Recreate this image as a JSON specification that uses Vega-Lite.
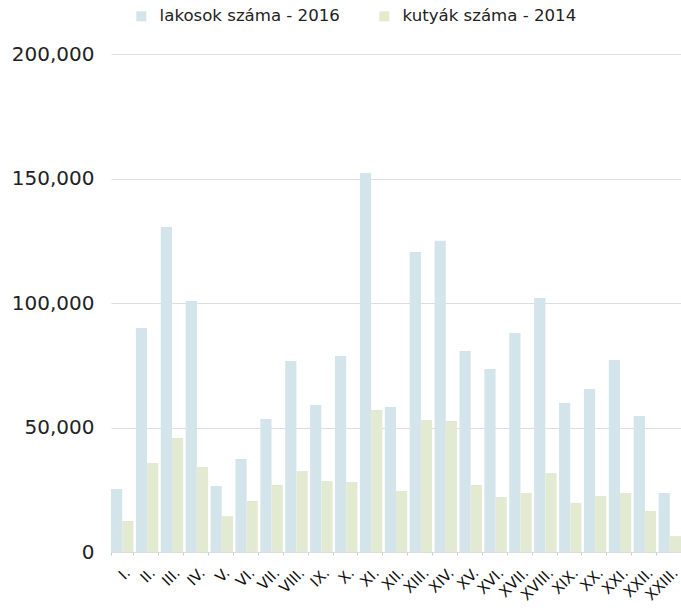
{
  "$schema": "https://vega.github.io/schema/vega-lite/v6.json",
  "width": 570,
  "height": 498,
  "autosize": "none",
  "padding": {"left": 111, "top": 54, "right": 0, "bottom": 59},
  "config": {
    "font": "DejaVu Sans",
    "view": {"stroke": null}
  },
  "data": {
    "values": [
      {"ker": "I.", "series": "lakosok száma - 2016", "v": 25300},
      {"ker": "I.", "series": "kutyák száma - 2014", "v": 12450},
      {"ker": "II.", "series": "lakosok száma - 2016", "v": 90000},
      {"ker": "II.", "series": "kutyák száma - 2014", "v": 35700},
      {"ker": "III.", "series": "lakosok száma - 2016", "v": 130500},
      {"ker": "III.", "series": "kutyák száma - 2014", "v": 45800},
      {"ker": "IV.", "series": "lakosok száma - 2016", "v": 100800},
      {"ker": "IV.", "series": "kutyák száma - 2014", "v": 34100},
      {"ker": "V.", "series": "lakosok száma - 2016", "v": 26500},
      {"ker": "V.", "series": "kutyák száma - 2014", "v": 14400},
      {"ker": "VI.", "series": "lakosok száma - 2016", "v": 37300},
      {"ker": "VI.", "series": "kutyák száma - 2014", "v": 20500},
      {"ker": "VII.", "series": "lakosok száma - 2016", "v": 53400},
      {"ker": "VII.", "series": "kutyák száma - 2014", "v": 26900},
      {"ker": "VIII.", "series": "lakosok száma - 2016", "v": 76700},
      {"ker": "VIII.", "series": "kutyák száma - 2014", "v": 32500},
      {"ker": "IX.", "series": "lakosok száma - 2016", "v": 59000},
      {"ker": "IX.", "series": "kutyák száma - 2014", "v": 28500},
      {"ker": "X.", "series": "lakosok száma - 2016", "v": 78700},
      {"ker": "X.", "series": "kutyák száma - 2014", "v": 28100},
      {"ker": "XI.", "series": "lakosok száma - 2016", "v": 152200},
      {"ker": "XI.", "series": "kutyák száma - 2014", "v": 57000},
      {"ker": "XII.", "series": "lakosok száma - 2016", "v": 58200},
      {"ker": "XII.", "series": "kutyák száma - 2014", "v": 24500},
      {"ker": "XIII.", "series": "lakosok száma - 2016", "v": 120500},
      {"ker": "XIII.", "series": "kutyák száma - 2014", "v": 53000},
      {"ker": "XIV.", "series": "lakosok száma - 2016", "v": 125000},
      {"ker": "XIV.", "series": "kutyák száma - 2014", "v": 52600},
      {"ker": "XV.", "series": "lakosok száma - 2016", "v": 80700},
      {"ker": "XV.", "series": "kutyák száma - 2014", "v": 26900},
      {"ker": "XVI.", "series": "lakosok száma - 2016", "v": 73500},
      {"ker": "XVI.", "series": "kutyák száma - 2014", "v": 22100},
      {"ker": "XVII.", "series": "lakosok száma - 2016", "v": 88000},
      {"ker": "XVII.", "series": "kutyák száma - 2014", "v": 23700},
      {"ker": "XVIII.", "series": "lakosok száma - 2016", "v": 102000},
      {"ker": "XVIII.", "series": "kutyák száma - 2014", "v": 31700},
      {"ker": "XIX.", "series": "lakosok száma - 2016", "v": 59800},
      {"ker": "XIX.", "series": "kutyák száma - 2014", "v": 19700},
      {"ker": "XX.", "series": "lakosok száma - 2016", "v": 65500},
      {"ker": "XX.", "series": "kutyák száma - 2014", "v": 22500},
      {"ker": "XXI.", "series": "lakosok száma - 2016", "v": 77100},
      {"ker": "XXI.", "series": "kutyák száma - 2014", "v": 23700},
      {"ker": "XXII.", "series": "lakosok száma - 2016", "v": 54600},
      {"ker": "XXII.", "series": "kutyák száma - 2014", "v": 16500},
      {"ker": "XXIII.", "series": "lakosok száma - 2016", "v": 23700},
      {"ker": "XXIII.", "series": "kutyák száma - 2014", "v": 6400}
    ]
  },
  "mark": {"type": "bar"},
  "encoding": {
    "x": {
      "field": "ker",
      "type": "nominal",
      "sort": null,
      "scale": {"paddingInner": 0.1, "paddingOuter": 0},
      "axis": {
        "title": null,
        "labelAngle": -45,
        "labelFontSize": 15,
        "labelColor": "#111",
        "domain": false,
        "ticks": true,
        "tickBand": "extent",
        "tickColor": "#ccc",
        "tickSize": 3,
        "labelPadding": 10,
        "labelDx": 4,
        "labelOverlap": false,
        "grid": false
      }
    },
    "xOffset": {
      "field": "series",
      "type": "nominal",
      "sort": ["lakosok száma - 2016", "kutyák száma - 2014"],
      "scale": {"paddingInner": 0, "paddingOuter": 0}
    },
    "y": {
      "field": "v",
      "type": "quantitative",
      "scale": {"domain": [0, 200000]},
      "axis": {
        "title": null,
        "values": [0, 50000, 100000, 150000, 200000],
        "format": ",.0f",
        "labelFontSize": 20,
        "labelColor": "#222",
        "domain": false,
        "ticks": false,
        "labelPadding": 17,
        "gridColor": "#dddddd",
        "gridWidth": 1
      }
    },
    "color": {
      "field": "series",
      "type": "nominal",
      "sort": ["lakosok száma - 2016", "kutyák száma - 2014"],
      "scale": {
        "domain": ["lakosok száma - 2016", "kutyák száma - 2014"],
        "range": ["#d3e5eb", "#e2ebd1"]
      },
      "legend": {
        "title": null,
        "orient": "none",
        "direction": "horizontal",
        "legendX": 22,
        "legendY": -46,
        "symbolType": "square",
        "symbolSize": 100,
        "labelFontSize": 16.6,
        "labelLimit": 0,
        "labelColor": "#222",
        "columnPadding": 36,
        "labelOffset": 10
      }
    }
  }
}
